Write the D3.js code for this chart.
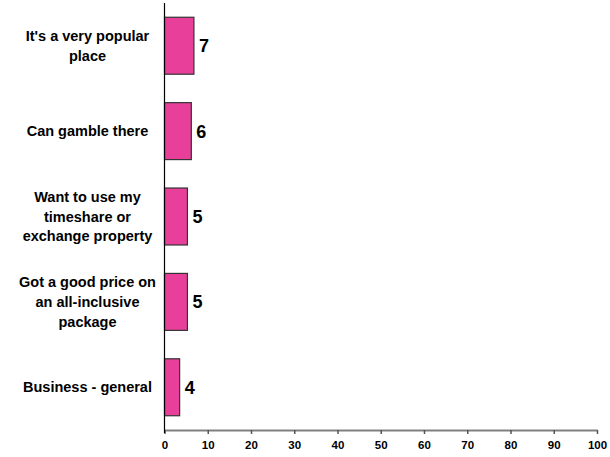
<!DOCTYPE html>
<html>
<head>
<meta charset="utf-8">
<script src="https://cdn.jsdelivr.net/npm/d3@7"></script>
<style>
  body { margin: 0; background: #fff; }
  text { font-family: Arial, "Liberation Sans", sans-serif; font-weight: bold; fill: #000; }
</style>
</head>
<body>
<svg id="chart"></svg>
<script>
// reasons, top to bottom
const categories = [
    ["It's a very popular", "place"],
    ["Can gamble there"],
    ["Want to use my", "timeshare or", "exchange property"],
    ["Got a good price on", "an all-inclusive", "package"],
    ["Business - general"]
];
const values = [6.8, 6.2, 5.3, 5.3, 3.5];
const valueLabels = ["7", "6", "5", "5", "4"];
const xTicks = [0, 10, 20, 30, 40, 50, 60, 70, 80, 90, 100];

const width = 610, height = 457;
const margin = { top: 3, right: 13, bottom: 27, left: 164.5 };

const svg = d3.select('#chart')
    .attr('width', width)
    .attr('height', height);

const x = d3.scaleLinear()
    .domain([0, 100])
    .range([margin.left, width - margin.right]);

const y = d3.scaleBand()
    .domain(d3.range(categories.length))
    .range([margin.top, height - margin.bottom])
    .paddingInner(0.333)
    .paddingOuter(0.167);

// bars
svg.selectAll('.bar')
    .data(values)
    .join('rect')
    .attr('class', 'bar')
    .attr('x', x(0))
    .attr('y', (d, i) => y(i))
    .attr('width', d => x(d) - x(0))
    .attr('height', y.bandwidth())
    .attr('fill', '#e8409a')
    .attr('stroke', '#333')
    .attr('stroke-width', 1.2);

// value labels
svg.selectAll('.val')
    .data(values)
    .join('text')
    .attr('class', 'val')
    .attr('x', d => x(d) + 5)
    .attr('y', (d, i) => y(i) + y.bandwidth() / 2)
    .attr('dy', '0.36em')
    .attr('font-size', 18)
    .text((d, i) => valueLabels[i]);

// category labels
const catG = svg.selectAll('.cat')
    .data(categories)
    .join('text')
    .attr('class', 'cat')
    .attr('text-anchor', 'middle')
    .attr('font-size', 14.5)
    .attr('y', (d, i) => y(i) + y.bandwidth() / 2);

catG.selectAll('tspan')
    .data(d => d.map((t, j) => ({ t, j, n: d.length })))
    .join('tspan')
    .attr('x', 87.5)
    .attr('dy', d => d.j === 0 ? `${0.36 - (d.n - 1) * 0.68}em` : '1.36em')
    .text(d => d.t);

// x axis
const xAxis = d3.axisBottom(x)
    .tickValues(xTicks)
    .tickSize(4)
    .tickSizeOuter(0)
    .tickPadding(7);

const xAxisG = svg.append('g')
    .attr('transform', `translate(0,${height - margin.bottom})`)
    .call(xAxis);

xAxisG.select('.domain')
    .attr('stroke', '#808080')
    .attr('stroke-width', 2);
xAxisG.selectAll('.tick line')
    .attr('stroke', '#555')
    .attr('stroke-width', 1.5);
xAxisG.selectAll('.tick text')
    .attr('font-size', 11.5)
    .attr('font-family', 'Arial, "Liberation Sans", sans-serif')
    .attr('font-weight', 'bold')
    .attr('fill', '#000');

// y axis line
svg.append('line')
    .attr('x1', x(0)).attr('x2', x(0))
    .attr('y1', margin.top).attr('y2', height - margin.bottom + 3)
    .attr('stroke', '#000')
    .attr('stroke-width', 1.2);
</script>
</body>
</html>
